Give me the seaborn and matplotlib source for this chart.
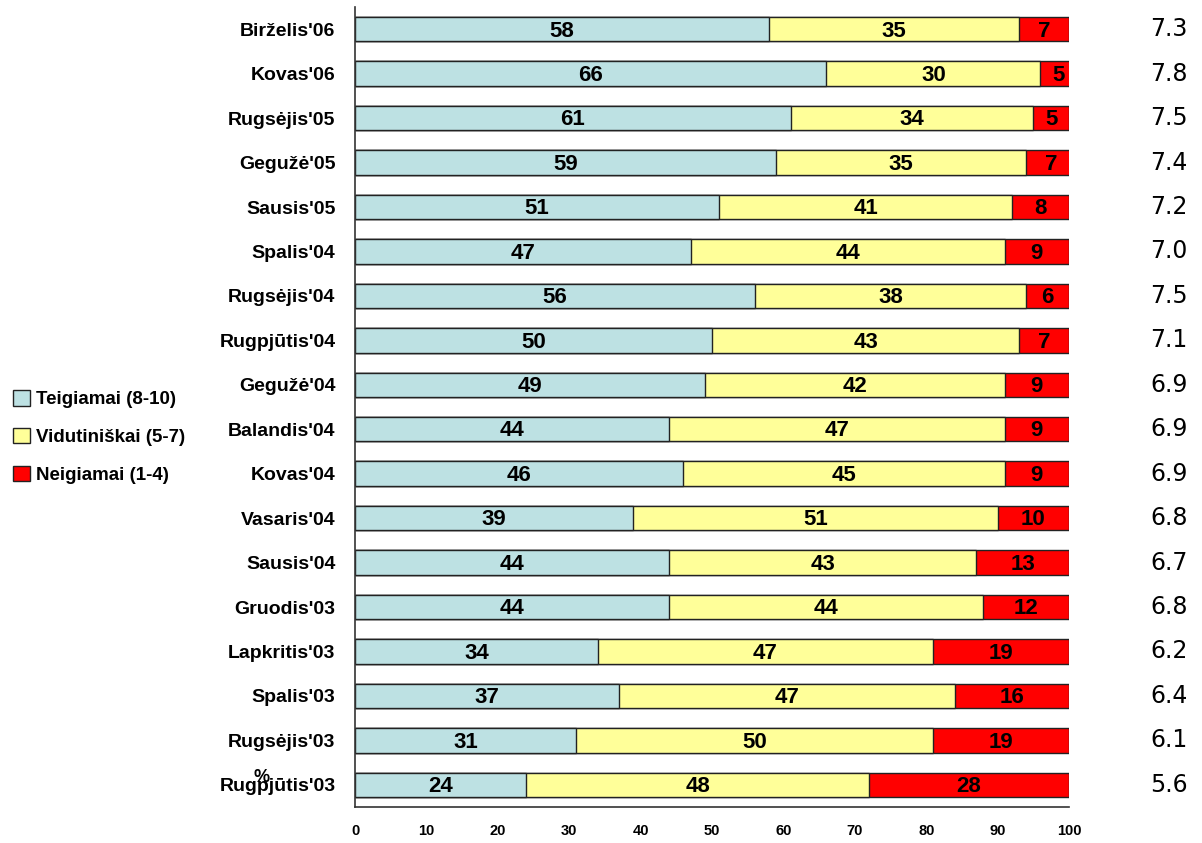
import matplotlib
matplotlib.use("Agg")
import matplotlib.pyplot as plt
import seaborn as sns
import pandas as pd
import numpy as np

# Survey waves, newest at the top
periods = ["Birželis'06", "Kovas'06", "Rugsėjis'05", "Gegužė'05", "Sausis'05",
           "Spalis'04", "Rugsėjis'04", "Rugpjūtis'04", "Gegužė'04", "Balandis'04",
           "Kovas'04", "Vasaris'04", "Sausis'04", "Gruodis'03", "Lapkritis'03",
           "Spalis'03", "Rugsėjis'03", "Rugpjūtis'03"]
positive = [58, 66, 61, 59, 51, 47, 56, 50, 49, 44, 46, 39, 44, 44, 34, 37, 31, 24]
medium = [35, 30, 34, 35, 41, 44, 38, 43, 42, 47, 45, 51, 43, 44, 47, 47, 50, 48]
negative = [7, 5, 5, 7, 8, 9, 6, 7, 9, 9, 9, 10, 13, 12, 19, 16, 19, 28]
mean_score = ["7.3", "7.8", "7.5", "7.4", "7.2", "7.0", "7.5", "7.1", "6.9", "6.9",
              "6.9", "6.8", "6.7", "6.8", "6.2", "6.4", "6.1", "5.6"]
series_names = ["Teigiamai (8-10)", "Vidutiniškai (5-7)", "Neigiamai (1-4)"]
x_ticks = [0, 10, 20, 30, 40, 50, 60, 70, 80, 90, 100]

colors = ["#BDE1E3", "#FFFF99", "#FF0000"]

sns.set_style("white", {"text.color": "black", "axes.labelcolor": "black",
                        "xtick.color": "#333333", "ytick.color": "#333333"})
plt.rcParams["font.family"] = ["Liberation Sans", "DejaVu Sans"]
bold_kw = dict(family=["Liberation Sans", "DejaVu Sans"], weight="bold", color="black")

df = pd.DataFrame({"period": periods, "pos": positive, "mid": medium, "neg": negative})
df["c1"] = df["pos"]
df["c2"] = df["pos"] + df["mid"]
df["c3"] = df["pos"] + df["mid"] + df["neg"]

fig = plt.figure(figsize=(12.02, 8.43), dpi=100)
ax = fig.add_axes([355 / 1202, 1 - 807 / 843, (1069 - 355) / 1202, 800 / 843])

# Stack by overlaying cumulative totals, widest layer first
for col, c in zip(["c3", "c2", "c1"], colors[::-1]):
    sns.barplot(data=df, x=col, y="period", orient="h", color=c, width=0.55,
                edgecolor="#222222", linewidth=1.0, saturation=1, ax=ax)

# Segment value labels and mean scores
for i in range(len(periods)):
    starts = [0, positive[i], positive[i] + medium[i]]
    for s, v in zip(starts, [positive[i], medium[i], negative[i]]):
        ax.text(s + v / 2, i + 0.04, str(v), ha="center", va="center",
                fontsize=16, **bold_kw)
    ax.text(1.14, i, mean_score[i], transform=ax.get_yaxis_transform(),
            ha="center", va="center", fontsize=17, family="DejaVu Sans", color="black")

ax.set_xlim(0, 100)
ax.set_ylim(len(periods) - 0.5, -0.5)
ax.set_xticks(x_ticks)
ax.set_xticklabels([str(t) for t in x_ticks], fontsize=10.5, **bold_kw)
ax.set_yticks(range(len(periods)))
ax.set_yticklabels(periods, fontsize=14, **bold_kw)
ax.set_yticks(np.arange(-0.5, len(periods), 1.0), minor=True)
ax.tick_params(axis="y", which="major", length=0, pad=14)
ax.tick_params(axis="y", which="minor", length=8, width=1.2, color="#333333", direction="out")
ax.tick_params(axis="x", length=6, width=1.2, color="#333333", direction="out", pad=6)
ax.set_xlabel("")
ax.set_ylabel("")
for side in ["top", "right"]:
    ax.spines[side].set_visible(False)
for side in ["left", "bottom"]:
    ax.spines[side].set_color("#333333")
    ax.spines[side].set_linewidth(1.2)

fig.text(262 / 1202, 1 - 777 / 843, "%", ha="center", va="center", fontsize=13, **bold_kw)

# Legend on the left
handles = [plt.Rectangle((0, 0), 1, 1, facecolor=c, edgecolor="#222222", linewidth=1.0)
           for c in colors]
fig.legend(handles, series_names, loc="center left", bbox_to_anchor=(0.0, 1 - 437 / 843),
           frameon=False, prop=dict(size=13.5, family=["Liberation Sans", "DejaVu Sans"],
                                    weight="bold"),
           handlelength=0.9, handleheight=0.9, handletextpad=0.3, labelspacing=1.05,
           borderaxespad=0.3)

fig.savefig("out.png", dpi=100)
